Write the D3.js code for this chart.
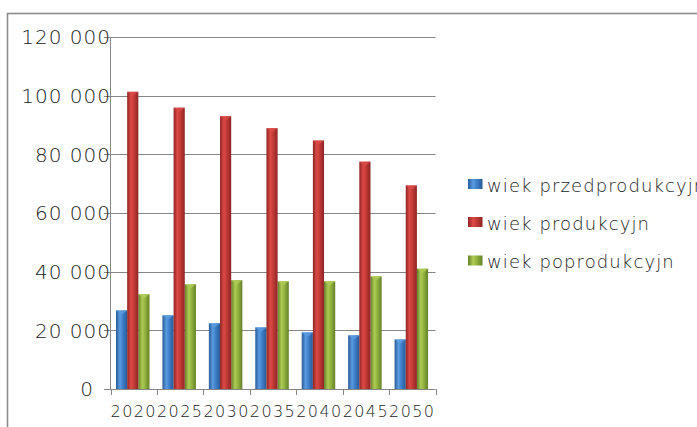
<!DOCTYPE html>
<html>
<head>
<meta charset="utf-8">
<script src="https://cdn.jsdelivr.net/npm/d3@7"></script>
<style>
  html, body { margin: 0; padding: 0; background: #fff; overflow: hidden; }
  svg { display: block; font-family: "DejaVu Sans", sans-serif; font-weight: 200; }
</style>
</head>
<body>
<div id="chart"></div>
<script>

var years = ["2020", "2025", "2030", "2035", "2040", "2045", "2050"]
var przedprodukcyjny = [26800, 25100, 22400, 21000, 19300, 18300, 16900]
var produkcyjny = [101300, 95900, 93000, 88900, 84700, 77500, 69400]
var poprodukcyjny = [32300, 35700, 37100, 36700, 36700, 38400, 41000]
var seriesNames = ["wiek przedprodukcyjny", "wiek produkcyjny", "wiek poprodukcyjny"]
var yTicks = [0, 20000, 40000, 60000, 80000, 100000, 120000]

var width = 697, height = 427

var series = [
  {name: seriesNames[0], values: przedprodukcyjny, light: "#5a9be0", mid: "#3f7fca", dark: "#285a98"},
  {name: seriesNames[1], values: produkcyjny, light: "#dc4a47", mid: "#c13a37", dark: "#8e2523"},
  {name: seriesNames[2], values: poprodukcyjny, light: "#aecb55", mid: "#92b43e", dark: "#64802a"}
]

var svg = d3.select("#chart").append("svg")
    .attr("width", width)
    .attr("height", height)

var defs = svg.append("defs")

series.forEach(function (s, i) {
  var g = defs.append("linearGradient")
      .attr("id", "grad" + i)
      .attr("x1", "0%").attr("x2", "100%")
      .attr("y1", "0%").attr("y2", "0%")
  g.append("stop").attr("offset", "0%").attr("stop-color", s.dark)
  g.append("stop").attr("offset", "35%").attr("stop-color", s.light)
  g.append("stop").attr("offset", "60%").attr("stop-color", s.mid)
  g.append("stop").attr("offset", "100%").attr("stop-color", s.dark)
})

// outer frame
svg.append("rect")
    .attr("x", 7.5)
    .attr("y", 13.5)
    .attr("width", 760)
    .attr("height", 480)
    .attr("fill", "none")
    .attr("stroke", "#8c8c8c")
    .attr("stroke-width", 1.6)

var x = d3.scaleBand()
    .domain(years)
    .range([110.5, 435.5])
    .padding(0)

var x1 = d3.scaleBand()
    .domain(d3.range(series.length))
    .range([5.5, 39])
    .padding(0)

var y = d3.scaleLinear()
    .domain([0, 120000])
    .range([389, 37])

var fmt = d3.formatLocale({decimal: ",", thousands: " ", grouping: [3], currency: ["", ""]}).format(",")

// gridlines
svg.append("g")
    .selectAll("line")
    .data(yTicks)
    .join("line")
      .attr("x1", 104)
      .attr("x2", 435.5)
      .attr("y1", d => Math.round(y(d)) + 0.5)
      .attr("y2", d => Math.round(y(d)) + 0.5)
      .attr("stroke", "#868686")
      .attr("stroke-width", 1)

// y axis line
svg.append("line")
    .attr("x1", 110.5).attr("x2", 110.5)
    .attr("y1", y(120000)).attr("y2", y(0) + 0.5)
    .attr("stroke", "#868686")

// x axis ticks
svg.append("g")
    .selectAll("line")
    .data(years.concat(["end"]))
    .join("line")
      .attr("x1", (d, i) => Math.round(110.5 + i * x.bandwidth()) + 0.5)
      .attr("x2", (d, i) => Math.round(110.5 + i * x.bandwidth()) + 0.5)
      .attr("y1", y(0))
      .attr("y2", y(0) + 6)
      .attr("stroke", "#868686")

// bars (red drawn last so it sits over its neighbours)
var order = [0, 2, 1]
var groups = svg.append("g")
  .selectAll("g")
  .data(order)
  .join("g")

groups.each(function (si) {
  var s = series[si]
  var g = d3.select(this)
  g.selectAll("rect.bar")
    .data(s.values)
    .join("rect")
      .attr("class", "bar")
      .attr("x", (d, i) => x(years[i]) + x1(si))
      .attr("width", x1.bandwidth())
      .attr("y", d => y(d))
      .attr("height", d => y(0) - y(d))
      .attr("fill", "url(#grad" + si + ")")
  // bevel highlight on top
  g.selectAll("path.cap")
    .data(s.values)
    .join("path")
      .attr("class", "cap")
      .attr("d", (d, i) => {
        var bx = x(years[i]) + x1(si), bw = x1.bandwidth(), by = y(d)
        return "M" + bx + "," + by + "L" + (bx + bw) + "," + by +
          "L" + (bx + bw * 0.55) + "," + (by + 4) + "L" + (bx + bw * 0.45) + "," + (by + 4) + "Z"
      })
      .attr("fill", s.light)
      .attr("opacity", 0.8)
})

// y labels
svg.append("g")
    .selectAll("text")
    .data(yTicks)
    .join("text")
      .attr("x", d => d === 0 ? 94 : 111)
      .attr("y", d => y(d))
      .attr("dy", "0.36em")
      .attr("text-anchor", "end")
      .attr("font-size", 20)
      .attr("letter-spacing", 1)
      .attr("fill", "#222")
      .text(d => fmt(d))

// x labels
svg.append("g")
    .selectAll("text")
    .data(years)
    .join("text")
      .attr("x", d => x(d) + x.bandwidth() / 2)
      .attr("y", 417)
      .attr("text-anchor", "middle")
      .attr("font-size", 16)
      .attr("letter-spacing", 1.4)
      .attr("fill", "#222")
      .text(d => d)

// legend
var legendTop = [179, 217, 255.5]
var visibleText = ["wiek przedprodukcyjny", "wiek produkcyjn", "wiek poprodukcyjn"]
var legend = svg.append("g")

series.forEach(function (s, i) {
  var row = legend.append("g")
  row.append("rect")
      .attr("x", 468)
      .attr("y", legendTop[i])
      .attr("width", 14.5)
      .attr("height", 10)
      .attr("fill", "url(#grad" + i + ")")
  var t = row.append("text")
      .attr("x", 487)
      .attr("y", legendTop[i] + 12.5)
      .attr("font-size", 18)
      .attr("letter-spacing", 1.1)
      .attr("fill", "#222")
      .text(visibleText[i])
  var w = t.node().getComputedTextLength()
  t.text(s.name)
  if (i > 0) {
    defs.append("clipPath").attr("id", "clip" + i)
      .append("rect")
        .attr("x", 480)
        .attr("y", legendTop[i] - 20)
        .attr("width", 487 - 480 + w + (i == 1 ? 1 : -0.5))
        .attr("height", 40)
    t.attr("clip-path", "url(#clip" + i + ")")
  }
})

</script>
</body>
</html>
